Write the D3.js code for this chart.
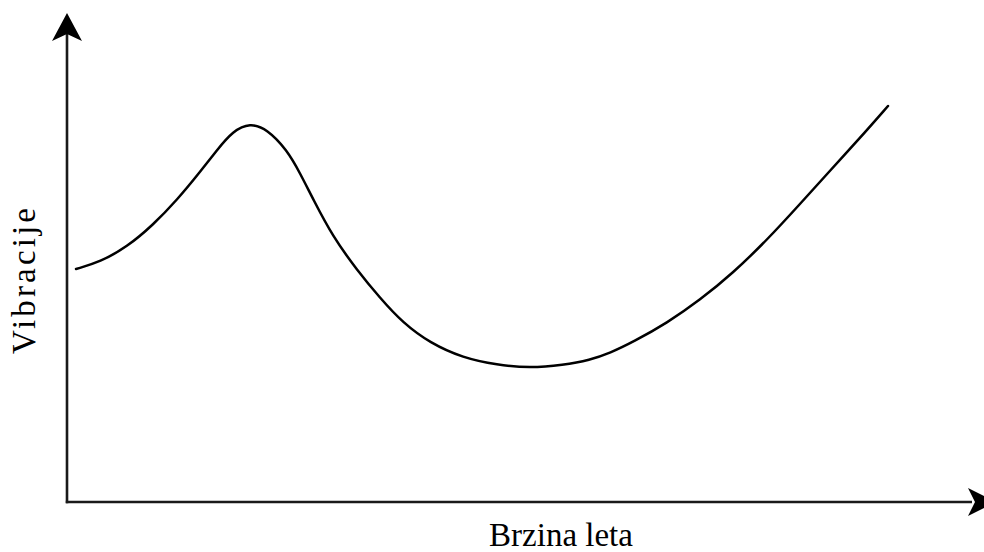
<!DOCTYPE html>
<html>
<head>
<meta charset="utf-8">
<script src="https://cdn.jsdelivr.net/npm/d3@7"></script>
<style>
html,body{margin:0;padding:0;background:#fff;}
svg{display:block;}
.lbl{font-family:"Liberation Serif","Times New Roman","DejaVu Serif",serif;font-size:33px;fill:#000;}
</style>
</head>
<body>
<svg id="chart" width="984" height="552"></svg>
<script>
// Data (arbitrary units: speed along x, vibration along y)
const speed = [9,33,60,86,110,133,150,166,183,200,220,233,246,266,290,313,336,363,396,430,463,496,523,543,566,600,633,666,700,733,760,793,821];
const vibration = [233,240,255,277,302,330,352,371,379,373,352,329,303,265,232,204,179,159,144,137,134,137,142,149,160,179,202,229,262,298,328,364,396];
const xLabel = "Brzina leta";
const yLabel = "Vibracije";

(function () {
const svg = d3.select("#chart");
const x = d3.scaleLinear().domain([0, 915]).range([67, 982]);
const y = d3.scaleLinear().domain([0, 489]).range([502, 13]);

const data = speed.map((s, i) => ({s, v: vibration[i]}));

// axes
svg.append("line").attr("x1", x(0)).attr("y1", y(0) + 1.2).attr("x2", x(0)).attr("y2", y(470))
  .attr("stroke", "#1a1a1a").attr("stroke-width", 2.6);
svg.append("line").attr("x1", x(0) - 1.2).attr("y1", y(0)).attr("x2", x(905)).attr("y2", y(0))
  .attr("stroke", "#1a1a1a").attr("stroke-width", 2.6);

// arrowheads
const ax = x(0), yTip = y(489);
svg.append("path")
  .attr("d", `M${ax},${yTip} L${ax-15},${yTip+28} L${ax},${yTip+21} L${ax+15},${yTip+28} Z`)
  .attr("fill", "#000");
const ay = y(0), xTip = 996;
svg.append("path")
  .attr("d", `M${xTip},${ay} L${xTip-28},${ay-14} L${xTip-21},${ay} L${xTip-28},${ay+14} Z`)
  .attr("fill", "#000");

// curve
const line = d3.line().x(d => x(d.s)).y(d => y(d.v)).curve(d3.curveBasis);
svg.append("path").datum(data).attr("d", line)
  .attr("fill", "none").attr("stroke", "#000").attr("stroke-width", 2.5)
  .attr("stroke-linecap", "round");

// labels
svg.append("text").attr("class", "lbl").attr("x", 561).attr("y", 546)
  .attr("text-anchor", "middle").text(xLabel);
svg.append("text").attr("class", "lbl")
  .attr("transform", "translate(35,281) rotate(-90)")
  .attr("text-anchor", "middle")
  .attr("textLength", 146).attr("lengthAdjust", "spacing")
  .text(yLabel);
})();
</script>
</body>
</html>
